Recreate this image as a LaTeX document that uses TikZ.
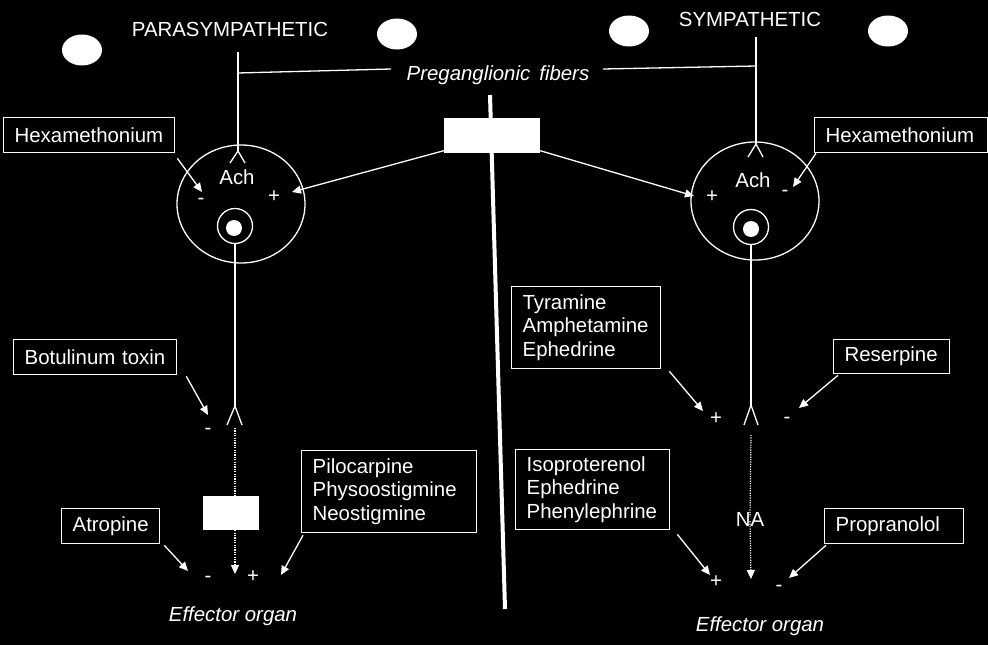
\documentclass[tikz,border=0pt]{standalone}
\usepackage{fontspec}
\setmainfont{Liberation Sans}
\usetikzlibrary{arrows.meta,shapes.geometric}
\begin{document}
\begin{tikzpicture}[x=1pt,y=-1pt,
  every node/.style={text=white, font=\fontsize{20.4}{23.5}\selectfont, inner sep=0pt},
  ln/.style={draw=white, line width=1.3pt},
  arr/.style={ln, -{Triangle[length=9pt,width=8pt]}},
  dotl/.style={draw=white, line width=1.2pt, dash pattern=on 1.2pt off 1.2pt},
  dotarr/.style={dotl, -{Triangle[length=9pt,width=8pt]}},
  drugbox/.style={draw=white, line width=1.3pt, anchor=north west, align=left, inner xsep=11pt, inner ysep=0pt},
  blob/.style={ellipse, fill=white, minimum width=40pt, minimum height=31pt},
  gang/.style={ellipse, draw=white, line width=1.3pt, minimum width=128pt, minimum height=118pt},
  soma/.style={circle, draw=white, line width=1.3pt, minimum size=35pt},
  nucl/.style={circle, fill=white, minimum size=16pt},
  wrect/.style={fill=white, rectangle},
  itl/.style={font=\fontsize{20.4}{23.5}\selectfont\itshape},
]
\fill[black] (0,0) rectangle (988,645);
\useasboundingbox (0,0) rectangle (988,645);

% decorative white blobs
\node[blob] (b1) at (82,50) {};
\node[blob] (b2) at (397,34) {};
\node[blob] (b3) at (629,31) {};
\node[blob] (b4) at (888,31) {};

% titles
\node (para) at (230,29) {PARASYMPATHETIC};
\node (symp) at (750,19) {SYMPATHETIC};
\node[itl] (pregang) at (498,75) {Preganglionic\, fibers};

% central divider and white rectangle
\coordinate (divTop) at (490,95);
\coordinate (divBot) at (505,609);
\draw[white, line width=4pt] (divTop) -- (divBot);
\node[wrect, minimum width=96pt, minimum height=35pt] (cbox) at (492,135) {};

% ---------------- parasympathetic ----------------
\coordinate (pTop) at (238,52);
\coordinate (pJoin) at (237.5,73);
\coordinate (pgL) at (391,69);
\coordinate (pApex) at (238,151);
\coordinate (pLegL) at (230,163);
\coordinate (pLegR) at (245,163);
\draw[ln] (pTop) -- (pApex);
\draw[ln] (pJoin) -- (pgL);
\draw[ln] (pLegL) -- (pApex) -- (pLegR);

\node[gang] (gangL) at (241,204) {};
\node[soma] (somaL) at (235,226) {};
\node[nucl] (nuclL) at (234,228) {};
\node (achL) at (237,177) {Ach};
\node (minL) at (201,201) {-};
\node (plusL) at (274,197) {+};

\node[drugbox, text width=149pt, minimum height=35pt] (hexL) at (3,117) {Hexamethonium};
\coordinate (hexLtip) at (202,192);
\draw[arr] ([shift={(2,5)}]hexL.south east) -- (hexLtip);
\coordinate (cLtip) at (292,192);
\draw[arr] ([shift={(0,-2)}]cbox.south west) -- (cLtip);

% postganglionic parasympathetic
\coordinate (pApex2) at (235,406);
\coordinate (pLeg2L) at (227,425);
\coordinate (pLeg2R) at (242,425);
\draw[ln] (somaL.south) -- (pApex2);
\draw[ln] (pLeg2L) -- (pApex2) -- (pLeg2R);
\node[wrect, minimum width=56pt, minimum height=34pt] (pbox) at (230.5,513) {};
\coordinate (pDotTop) at (235,428);
\coordinate (pEffTip) at (235,574);
\draw[dotl] (pDotTop) -- (pDotTop |- pbox.north);
\draw[dotarr] (pDotTop |- pbox.south) -- (pEffTip);

\node (minBot) at (208,431) {-};
\node[drugbox, text width=141pt, minimum height=35pt] (botu) at (13,339) {Botulinum toxin};
\coordinate (botuTip) at (208,415);
\draw[arr] ([shift={(9,1)}]botu.south east) -- (botuTip);

\node[drugbox, text width=153pt, minimum height=82pt] (pilo) at (301,450) {Pilocarpine\\Physoostigmine\\Neostigmine};
\coordinate (piloTip) at (281,575);
\draw[arr] ([shift={(2,2)}]pilo.south west) -- (piloTip);

\node[drugbox, text width=76pt, minimum height=35pt] (atro) at (61,508) {Atropine};
\coordinate (atroTip) at (188,571);
\draw[arr] ([shift={(4,1)}]atro.south east) -- (atroTip);

\node (minEffL) at (208,579) {-};
\node (plusEffL) at (253,577) {+};
\node[itl] (effL) at (233,616) {Effector organ};

% ---------------- sympathetic ----------------
\coordinate (sTop) at (756,37);
\coordinate (sJoin) at (756,66);
\coordinate (pgR) at (603,69);
\coordinate (sApex) at (756,144);
\coordinate (sLegL) at (748,157);
\coordinate (sLegR) at (763,157);
\draw[ln] (sTop) -- (sApex);
\draw[ln] (pgR) -- (sJoin);
\draw[ln] (sLegL) -- (sApex) -- (sLegR);

\node[gang] (gangR) at (755,201) {};
\node[soma] (somaR) at (751,227) {};
\node[nucl] (nuclR) at (751,229) {};
\node (achR) at (753,180) {Ach};
\node (plusR) at (712,197) {+};
\node (minR) at (785,193) {-};

\node[drugbox, text width=151pt, minimum height=35pt] (hexR) at (814,117) {Hexamethonium};
\coordinate (hexRtip) at (793,187);
\draw[arr] ([shift={(2,0)}]hexR.south west) -- (hexRtip);
\coordinate (cRtip) at (694,196);
\draw[arr] ([shift={(0,-2)}]cbox.south east) -- (cRtip);

% postganglionic sympathetic
\coordinate (sApex2) at (751,405);
\coordinate (sLeg2L) at (744,425);
\coordinate (sLeg2R) at (758,425);
\draw[ln] (somaR.south) -- (sApex2);
\draw[ln] (sLeg2L) -- (sApex2) -- (sLeg2R);
\node (na) at (750,519) {NA};
\coordinate (sDotTop) at (751,435);
\coordinate (sEffTip) at (751,579);
\draw[dotl] (sDotTop) -- ([yshift=-5pt]na.north);
\draw[dotarr] ([yshift=5pt]na.south) -- (sEffTip);

\node (plusSyn) at (716,419) {+};
\node (minSyn) at (787,420) {-};

\node[drugbox, text width=127pt, minimum height=82pt] (tyra) at (511,286) {Tyramine\\Amphetamine\\Ephedrine};
\coordinate (tyraTip) at (703,411);
\draw[arr] ([shift={(8,2)}]tyra.south east) -- (tyraTip);

\node[drugbox, text width=94pt, minimum height=34pt] (rese) at (833,339) {Reserpine};
\coordinate (reseTip) at (799,408);
\draw[arr] ([shift={(5,1)}]rese.south west) -- (reseTip);

\node[drugbox, text width=132pt, minimum height=80pt] (isop) at (515,449) {Isoproterenol\\Ephedrine\\Phenylephrine};
\coordinate (isopTip) at (710,575);
\draw[arr] ([shift={(7,4)}]isop.south east) -- (isopTip);

\node[drugbox, text width=117pt, minimum height=35pt] (prop) at (824,508) {Propranolol};
\coordinate (propTip) at (789,578);
\draw[arr] ([shift={(2,1)}]prop.south west) -- (propTip);

\node (plusEffR) at (716,582) {+};
\node (minEffR) at (779,588) {-};
\node[itl] (effR) at (760,626) {Effector organ};
\end{tikzpicture}
\end{document}
